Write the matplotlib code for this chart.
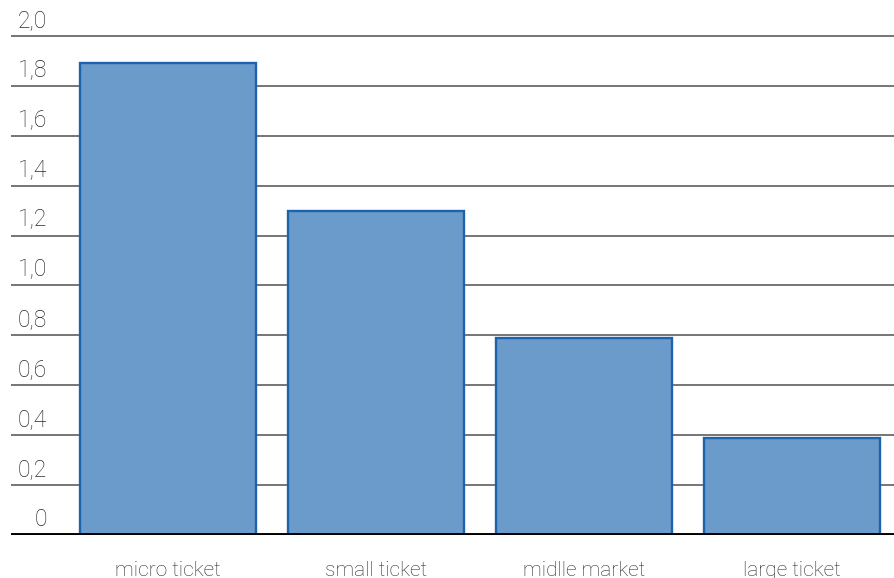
import matplotlib.pyplot as plt

# segment values
categories = ['micro ticket', 'small ticket', 'midlle market', 'large ticket']
values = [1.89, 1.30, 0.79, 0.39]
ytick_values = [0.2, 0.4, 0.6, 0.8, 1.0, 1.2, 1.4, 1.6, 1.8, 2.0]
ytick_labels = ['0,2', '0,4', '0,6', '0,8', '1,0', '1,2', '1,4', '1,6', '1,8', '2,0']

plt.rcParams['font.family'] = ['Roboto', 'DejaVu Sans']

fig = plt.figure(figsize=(8.94, 5.78), dpi=100)
ax = fig.add_axes([11 / 894, 43 / 578, 1 - 11 / 894, 505 / 578])

# horizontal grid lines
for v in ytick_values:
    ax.axhline(v, color='#505050', lw=1.1, zorder=1)

x = list(range(len(categories)))
ax.bar(x, values, width=0.845, color='#6b9bcb', edgecolor='#1c63ad', lw=1.7, zorder=2)
ax.axhline(0, color='black', lw=2.8, zorder=3)

ax.set_xlim(-0.755, 3.49)
ax.set_ylim(0, 2.024)

# y labels sit above their grid line, inside the plot area
trans = ax.get_yaxis_transform()
for v, lab in zip([0] + ytick_values, ['0'] + ytick_labels):
    ax.annotate(lab, xy=(0, v), xycoords=trans, xytext=(36, 4), textcoords='offset pixels',
                ha='right', va='bottom', fontsize=16.5, color='#2a2a2a', fontweight='light')

ax.set_xticks(x)
ax.set_xticklabels(categories, fontsize=15, color='#2a2a2a', fontweight='light')
ax.tick_params(axis='x', length=0, pad=18.5)
ax.set_yticks([])
for s in ax.spines.values():
    s.set_visible(False)

fig.savefig('out.png', dpi=100)
